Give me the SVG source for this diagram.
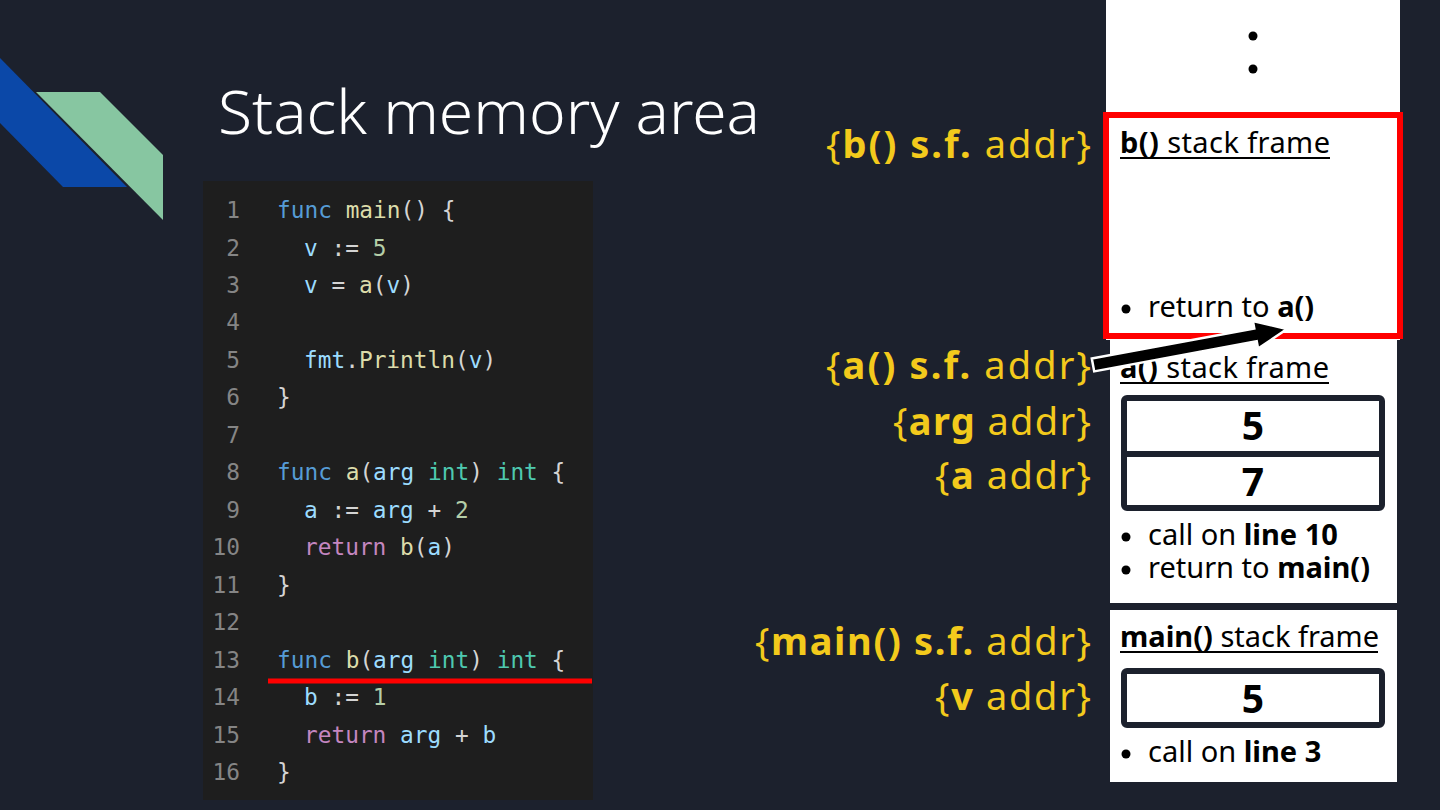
<svg xmlns="http://www.w3.org/2000/svg" width="1440" height="810" viewBox="0 0 1440 810">
<style>
.code{font-family:"DejaVu Sans Mono","Liberation Mono",monospace;font-size:22.8px;fill:#d4d4d4}
.ln{fill:#858585;text-anchor:end}
.kw{fill:#569cd6}.fn{fill:#dcdcaa}.var{fill:#9cdcfe}.num{fill:#b5cea8}.ty{fill:#4ec9b0}.ret{fill:#c586c0}
.lbl{font-family:"Noto Sans","Open Sans",sans-serif;font-size:38px;fill:#f3ca1c;text-anchor:end}
.ft{font-family:"Noto Sans","Open Sans",sans-serif;font-size:29px;fill:#000}
.val{font-family:"Noto Sans","Open Sans",sans-serif;font-size:39px;font-weight:700;fill:#000;text-anchor:middle}
.b{font-weight:700}
.cell{fill:none;stroke:#1c212d;stroke-width:6}
.ul{stroke:#000;stroke-width:2}
</style>
<rect x="0" y="0" width="1440" height="810" fill="#1c212d"/>
<g id="logo">
<polygon points="0,58 127,187 63,187 0,123" fill="#0b48a8"/>
<polygon points="36,92 100,92 163,155 163,220" fill="#87c6a1"/>
</g>
<g id="title">
<text x="218" y="134" font-family="'Noto Sans','Open Sans',sans-serif" font-size="60" font-weight="300" fill="#ffffff" textLength="542" lengthAdjust="spacingAndGlyphs">Stack memory area</text>
</g>
<g id="code-block">
<rect x="203" y="181" width="390" height="619" fill="#1e1e1e"/>
<g class="code">
<text class="code ln" x="240" y="218">1</text>
<text class="code ln" x="240" y="255.5">2</text>
<text class="code ln" x="240" y="292.9">3</text>
<text class="code ln" x="240" y="330.4">4</text>
<text class="code ln" x="240" y="367.9">5</text>
<text class="code ln" x="240" y="405.4">6</text>
<text class="code ln" x="240" y="442.8">7</text>
<text class="code ln" x="240" y="480.3">8</text>
<text class="code ln" x="240" y="517.8">9</text>
<text class="code ln" x="240" y="555.2">10</text>
<text class="code ln" x="240" y="592.7">11</text>
<text class="code ln" x="240" y="630.2">12</text>
<text class="code ln" x="240" y="667.6">13</text>
<text class="code ln" x="240" y="705.1">14</text>
<text class="code ln" x="240" y="742.6">15</text>
<text class="code ln" x="240" y="780">16</text>
<text class="code" x="277" y="218" xml:space="preserve"><tspan class="kw">func</tspan> <tspan class="fn">main</tspan>() {</text>
<text class="code" x="304" y="255.5" xml:space="preserve"><tspan class="var">v</tspan> := <tspan class="num">5</tspan></text>
<text class="code" x="304" y="292.9" xml:space="preserve"><tspan class="var">v</tspan> = <tspan class="fn">a</tspan>(<tspan class="var">v</tspan>)</text>
<text class="code" x="304" y="367.9" xml:space="preserve"><tspan class="var">fmt</tspan>.<tspan class="fn">Println</tspan>(<tspan class="var">v</tspan>)</text>
<text class="code" x="277" y="405.4">}</text>
<text class="code" x="277" y="480.3" xml:space="preserve"><tspan class="kw">func</tspan> <tspan class="fn">a</tspan>(<tspan class="var">arg</tspan> <tspan class="ty">int</tspan>) <tspan class="ty">int</tspan> {</text>
<text class="code" x="304" y="517.8" xml:space="preserve"><tspan class="var">a</tspan> := <tspan class="var">arg</tspan> + <tspan class="num">2</tspan></text>
<text class="code" x="304" y="555.2" xml:space="preserve"><tspan class="ret">return</tspan> <tspan class="fn">b</tspan>(<tspan class="var">a</tspan>)</text>
<text class="code" x="277" y="592.7">}</text>
<text class="code" x="277" y="667.6" xml:space="preserve"><tspan class="kw">func</tspan> <tspan class="fn">b</tspan>(<tspan class="var">arg</tspan> <tspan class="ty">int</tspan>) <tspan class="ty">int</tspan> {</text>
<text class="code" x="304" y="705.1" xml:space="preserve"><tspan class="var">b</tspan> := <tspan class="num">1</tspan></text>
<text class="code" x="304" y="742.6" xml:space="preserve"><tspan class="ret">return</tspan> <tspan class="var">arg</tspan> + <tspan class="var">b</tspan></text>
<text class="code" x="277" y="780">}</text>
</g>
<line x1="268" y1="681" x2="592" y2="681" stroke="#ff0000" stroke-width="5"/>
</g>
<g id="stack-top">
<rect x="1106" y="0" width="294" height="340" fill="#ffffff"/>
<circle cx="1253" cy="36" r="4.5" fill="#000"/>
<circle cx="1253" cy="69" r="4.5" fill="#000"/>
</g>
<g id="frame-b">
<rect x="1106" y="115" width="294" height="221" fill="#ffffff" stroke="#ff0000" stroke-width="6"/>
<text class="ft" x="1120" y="153" textLength="210" lengthAdjust="spacing"><tspan class="b">b()</tspan> stack frame</text>
<line class="ul" x1="1120" y1="158" x2="1330" y2="158"/>
<circle cx="1126" cy="309" r="4.5" fill="#000"/>
<text class="ft" x="1148" y="317">return to <tspan class="b">a()</tspan></text>
</g>
<g id="frame-a">
<rect x="1110" y="339" width="287" height="264" fill="#ffffff"/>
<text class="ft" x="1120" y="378" textLength="209" lengthAdjust="spacing"><tspan class="b">a()</tspan> stack frame</text>
<line class="ul" x1="1120" y1="383" x2="1329" y2="383"/>
<rect class="cell" x="1124" y="398" width="258" height="110" rx="3"/>
<line class="cell" x1="1124" y1="454" x2="1382" y2="454"/>
<text class="val" x="1253" y="440">5</text>
<text class="val" x="1253" y="496">7</text>
<circle cx="1126" cy="537" r="4.5" fill="#000"/>
<text class="ft" x="1148" y="545">call on <tspan class="b">line 10</tspan></text>
<circle cx="1126" cy="570" r="4.5" fill="#000"/>
<text class="ft" x="1148" y="578">return to <tspan class="b">main()</tspan></text>
</g>
<g id="frame-main">
<rect x="1110" y="610" width="287" height="172" fill="#ffffff"/>
<text class="ft" x="1120" y="647"><tspan class="b">main()</tspan> stack frame</text>
<line class="ul" x1="1120" y1="652" x2="1378" y2="652"/>
<rect class="cell" x="1124" y="671" width="258" height="54" rx="3"/>
<text class="val" x="1253" y="713">5</text>
<circle cx="1126" cy="754" r="4.5" fill="#000"/>
<text class="ft" x="1148" y="762">call on <tspan class="b">line 3</tspan></text>
</g>
<g id="labels">
<text class="lbl" x="1091" y="158" textLength="265" lengthAdjust="spacing">{<tspan class="b">b() s.f.</tspan> addr}</text>
<text class="lbl" x="1091" y="379" textLength="265" lengthAdjust="spacing">{<tspan class="b">a() s.f.</tspan> addr}</text>
<text class="lbl" x="1091" y="435" textLength="198" lengthAdjust="spacing">{<tspan class="b">arg</tspan> addr}</text>
<text class="lbl" x="1091" y="489" textLength="156" lengthAdjust="spacing">{<tspan class="b">a</tspan> addr}</text>
<text class="lbl" x="1091" y="655" textLength="336" lengthAdjust="spacing">{<tspan class="b">main() s.f.</tspan> addr}</text>
<text class="lbl" x="1091" y="710" textLength="156" lengthAdjust="spacing">{<tspan class="b">v</tspan> addr}</text>
</g>
<g id="connectors">
<polygon points="1091.8,358.6 1254.3,328.4 1252.9,321 1287,329 1258.1,348.6 1256.7,341.2 1094.2,371.4" fill="#000" stroke="#ffffff" stroke-width="2.5" stroke-linejoin="miter"/>
</g>
</svg>
